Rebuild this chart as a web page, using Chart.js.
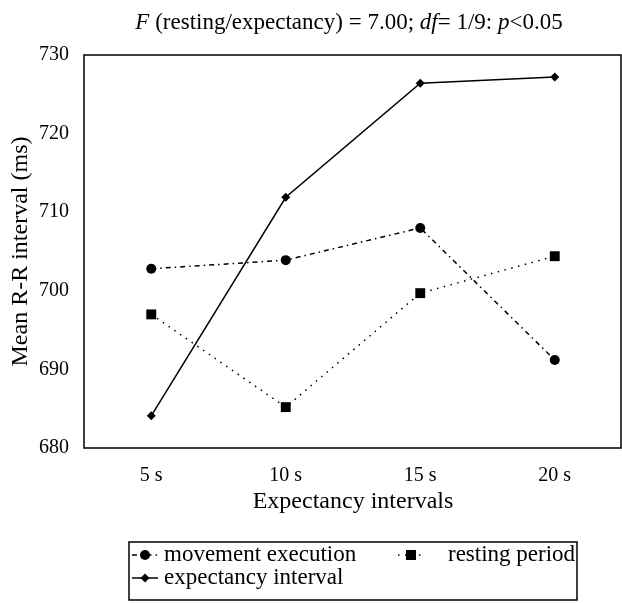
<!DOCTYPE html>
<html>
<head>
<meta charset="utf-8">
<script src="https://cdn.jsdelivr.net/npm/chart.js@4.4.0/dist/chart.umd.min.js"></script>
<style>
  html, body { margin: 0; padding: 0; background: #fff; }
</style>
</head>
<body>
<canvas id="myChart" width="622" height="603"></canvas>
<script>
// data
let categories = ['5 s', '10 s', '15 s', '20 s'];
let movementValues = [702.8, 703.9, 708.0, 691.2];
let expectancyValues = [684.1, 711.9, 726.4, 727.2];
let restingValues = [697.0, 685.2, 699.7, 704.4];
let yTicks = [680, 690, 700, 710, 720, 730];
let seriesNames = ['movement execution', 'expectancy interval', 'resting period'];

let serif = "'Liberation Serif', 'Times New Roman', serif";

// title with italic bits
let titleParts = [
  ['F', true], [' (resting/expectancy) = 7.00; ', false],
  ['df', true], ['= 1/9: ', false], ['p', true], ['<0.05', false]
];

let titlePlugin = {
  id: 'mixedTitle',
  afterDraw(chart) {
    let ctx = chart.ctx;
    ctx.save();
    ctx.fillStyle = '#000';
    ctx.textBaseline = 'middle';
    let total = 0;
    titleParts.forEach(p => {
      ctx.font = (p[1] ? 'italic ' : '') + '23px ' + serif;
      total += ctx.measureText(p[0]).width;
    });
    let x = 349 - total / 2;
    titleParts.forEach(p => {
      ctx.font = (p[1] ? 'italic ' : '') + '23px ' + serif;
      ctx.fillText(p[0], x, 23);
      x += ctx.measureText(p[0]).width;
    });
    ctx.restore();
  }
};

// closed frame around the plot
let framePlugin = {
  id: 'frame',
  beforeDatasetsDraw(chart) {
    let a = chart.chartArea;
    let ctx = chart.ctx;
    ctx.save();
    ctx.strokeStyle = '#000';
    ctx.lineWidth = 1.5;
    ctx.strokeRect(a.left, a.top, a.right - a.left - 1, a.bottom - a.top);
    ctx.restore();
  }
};

function drawMarker(ctx, style, x, y, r) {
  ctx.beginPath();
  if (style === 'circle') {
    ctx.arc(x, y, r, 0, Math.PI * 2);
  } else if (style === 'rect') {
    ctx.rect(x - r, y - r, r * 2, r * 2);
  } else {
    ctx.moveTo(x, y - r); ctx.lineTo(x + r, y); ctx.lineTo(x, y + r); ctx.lineTo(x - r, y);
    ctx.closePath();
  }
  ctx.fill();
}

// legend box under the chart, two columns
let legendPlugin = {
  id: 'boxLegend',
  afterDraw(chart) {
    let ctx = chart.ctx;
    ctx.save();
    ctx.strokeStyle = '#000';
    ctx.lineWidth = 1.5;
    ctx.strokeRect(129, 542, 448, 58);
    // symbol x, row y, text x
    let spots = [[145, 555, 164], [145, 578, 164], [411, 555, 448]];
    let marks = [['circle', 5], ['rectRot', 4.5], ['rect', 5]];
    chart.data.datasets.forEach((ds, i) => {
      let sx = spots[i][0], sy = spots[i][1];
      ctx.strokeStyle = '#000';
      ctx.fillStyle = '#000';
      ctx.lineWidth = 1.5;
      ctx.setLineDash(ds.borderDash || []);
      ctx.beginPath();
      ctx.moveTo(sx - 13, sy);
      ctx.lineTo(sx + 13, sy);
      ctx.stroke();
      ctx.setLineDash([]);
      drawMarker(ctx, marks[i][0], sx, sy, marks[i][1]);
      ctx.font = '23px ' + serif;
      ctx.textBaseline = 'middle';
      ctx.fillText(ds.label, spots[i][2], sy);
    });
    ctx.restore();
  }
};

let ctx = document.getElementById('myChart').getContext('2d');
let myChart = new Chart(ctx, {
  type: 'line',
  data: {
    labels: categories,
    datasets: [{
      label: seriesNames[0],
      data: movementValues,
      borderColor: '#000',
      backgroundColor: '#000',
      borderWidth: 1.5,
      borderDash: [5, 4, 1.5, 4],
      pointStyle: 'circle',
      pointRadius: 5,
      pointBorderWidth: 0
    }, {
      label: seriesNames[1],
      data: expectancyValues,
      borderColor: '#000',
      backgroundColor: '#000',
      borderWidth: 1.5,
      pointStyle: 'rectRot',
      pointRadius: 4.5,
      pointBorderWidth: 0
    }, {
      label: seriesNames[2],
      data: restingValues,
      borderColor: '#000',
      backgroundColor: '#000',
      borderWidth: 1.5,
      borderDash: [1.5, 5.5],
      pointStyle: 'rect',
      pointRadius: 7,
      pointBorderWidth: 0
    }]
  },
  options: {
    responsive: false,
    animation: false,
    clip: false,
    layout: { autoPadding: false, padding: { top: 55, right: 0, bottom: 85, left: 0 } },
    plugins: {
      legend: { display: false },
      title: { display: false },
      tooltip: { enabled: false }
    },
    elements: { line: { tension: 0 } },
    scales: {
      x: {
        offset: true,
        grid: { display: false, drawTicks: false },
        border: { display: false },
        ticks: { color: '#000', padding: 16, font: { family: serif, size: 20 } },
        title: { display: true, text: 'Expectancy intervals', color: '#000', padding: 2, font: { family: serif, size: 24 } },
        afterFit(scale) {
          scale.height = 70;
          scale.paddingLeft = 0;
          scale.paddingRight = 0;
        }
      },
      y: {
        min: 680,
        max: 730,
        grid: { display: false, drawTicks: false },
        border: { display: false },
        afterBuildTicks(scale) { scale.ticks = yTicks.map(v => ({ value: v })); },
        ticks: { color: '#000', padding: 15, font: { family: serif, size: 20 } },
        title: { display: true, text: 'Mean R-R interval (ms)', color: '#000', padding: 6, font: { family: serif, size: 24 } },
        afterFit(scale) { scale.width = 84; }
      }
    }
  },
  plugins: [framePlugin, titlePlugin, legendPlugin]
});
</script>
</body>
</html>
